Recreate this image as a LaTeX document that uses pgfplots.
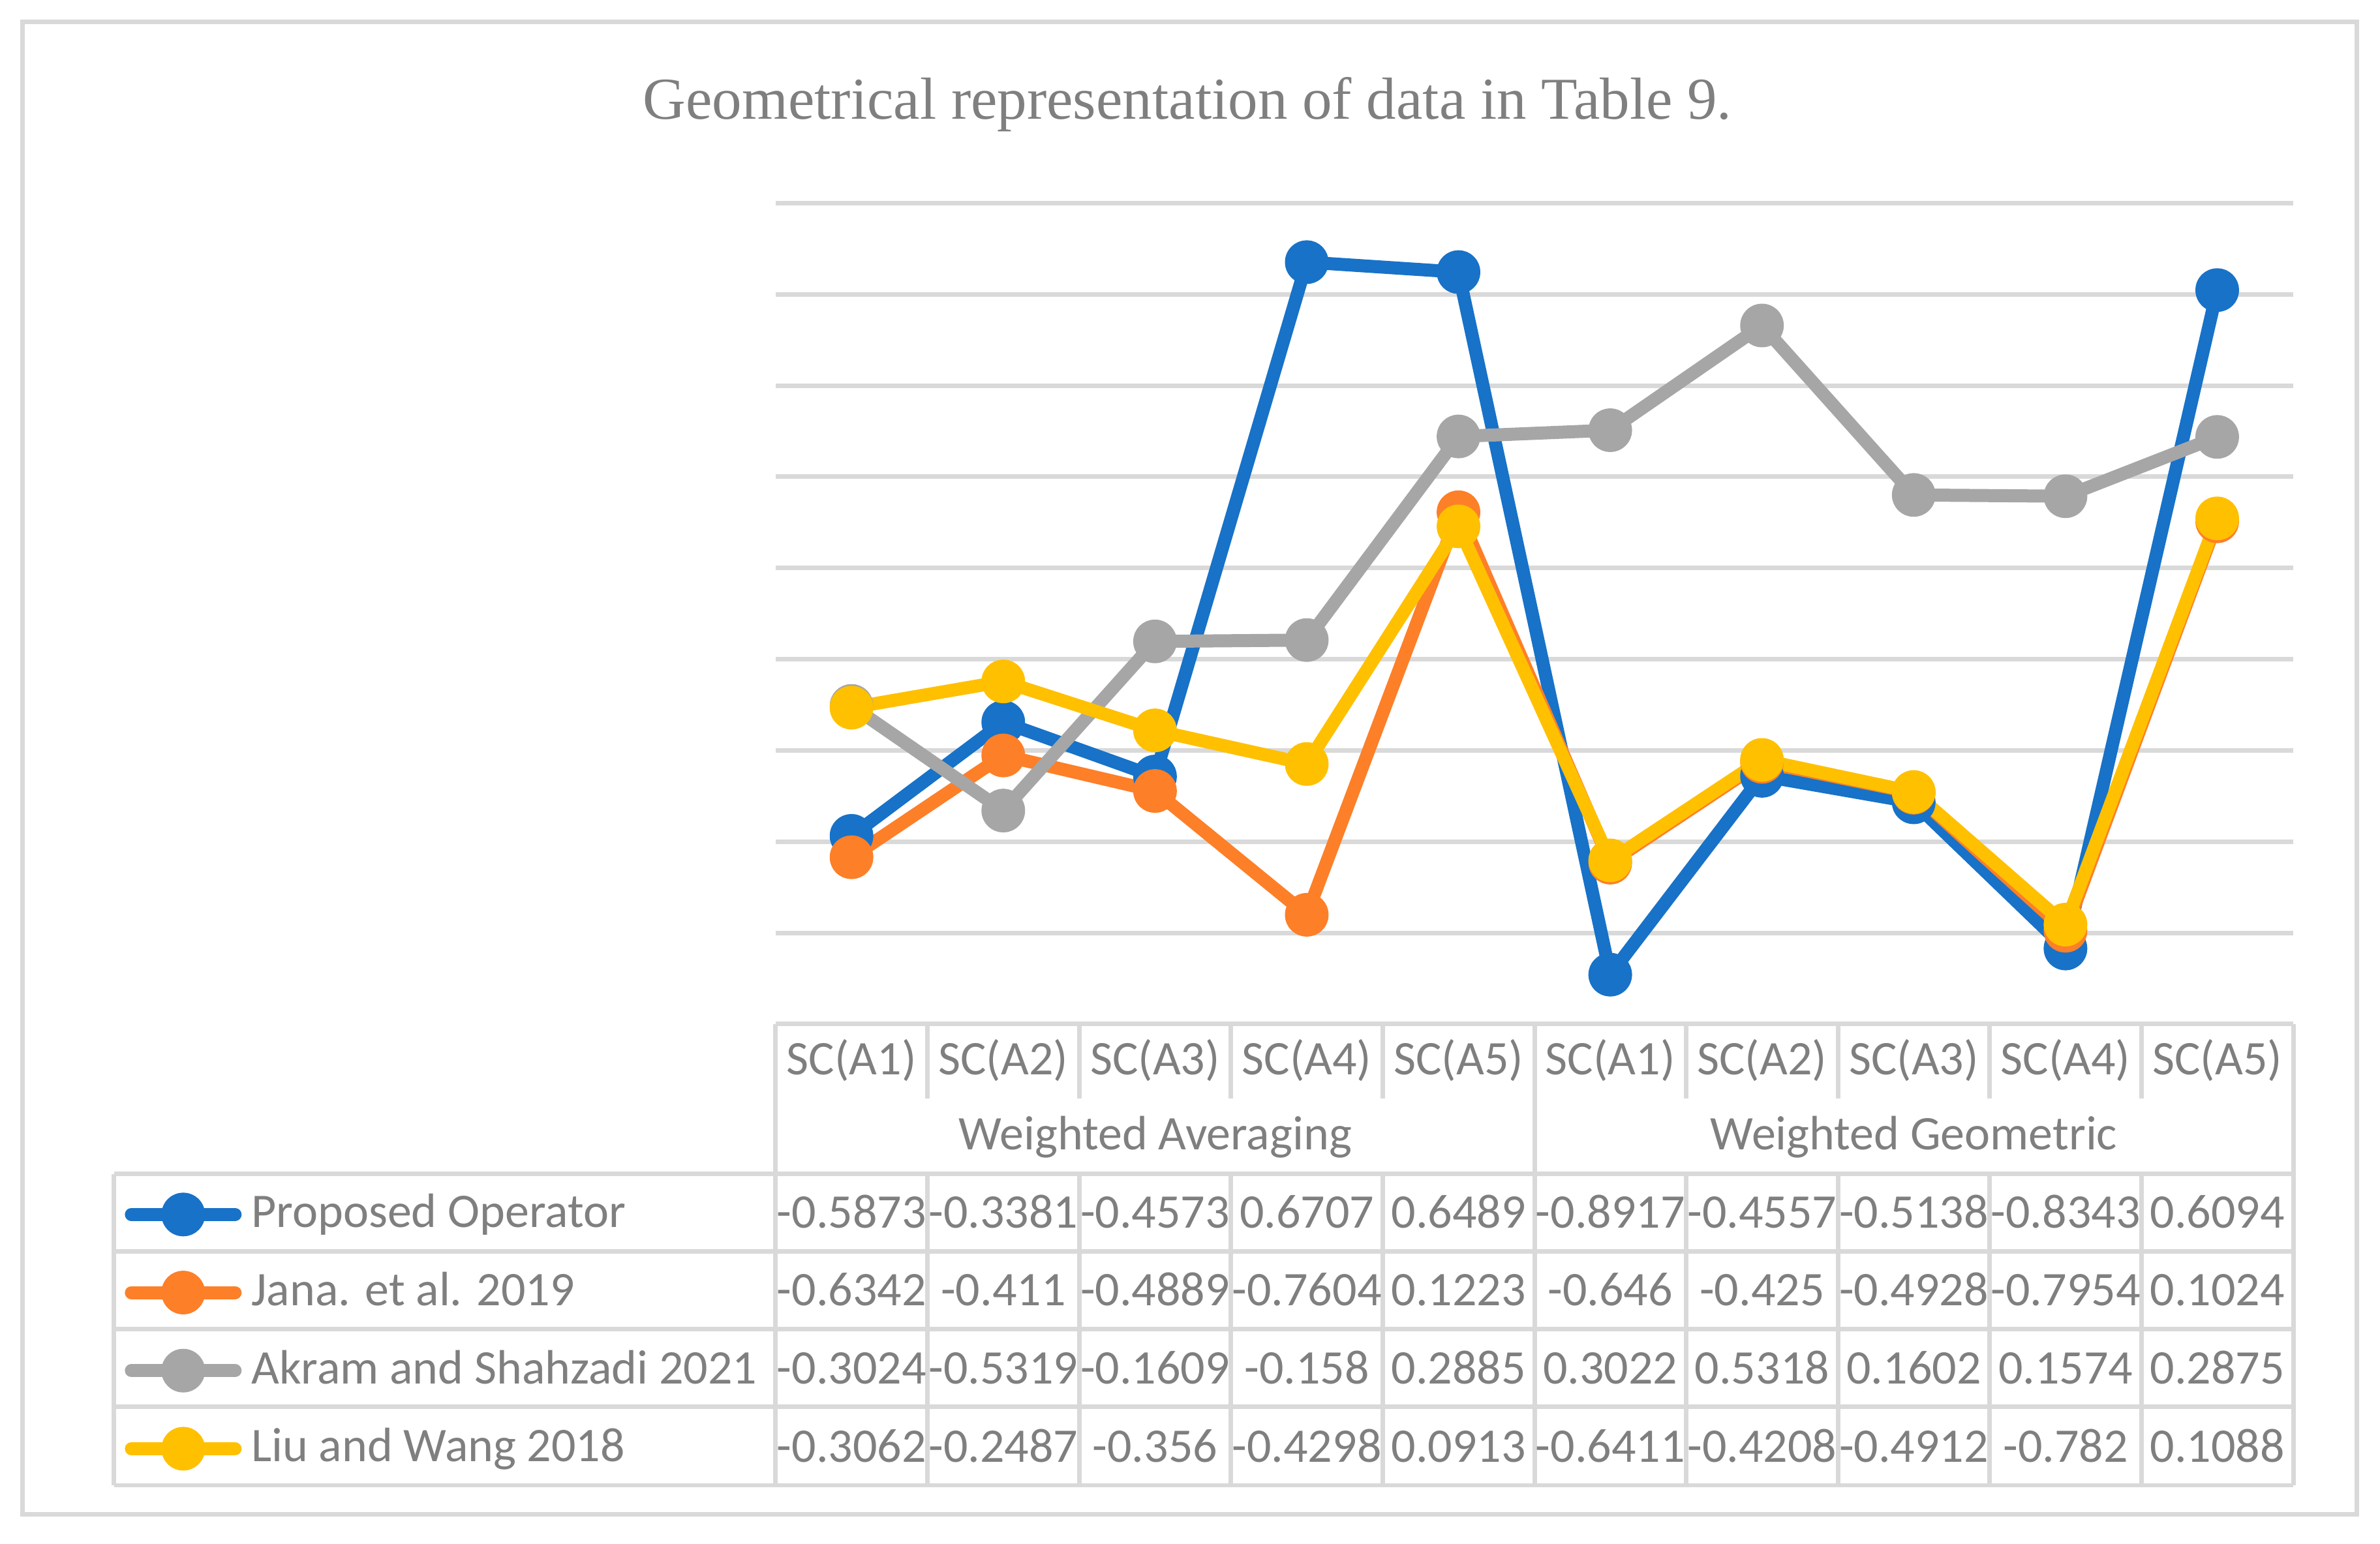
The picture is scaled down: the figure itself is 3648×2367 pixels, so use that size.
\documentclass[border=0pt]{standalone}
\usepackage{fontspec}
\setmainfont{Carlito}
\newfontfamily\titlefont{Liberation Serif}
\usepackage{pgfplots}
\pgfplotsset{compat=1.18}
\definecolor{cblue}{HTML}{1772C8}
\definecolor{corange}{HTML}{FD7F28}
\definecolor{cgray}{HTML}{A6A6A6}
\definecolor{cyellow}{HTML}{FFC000}
\definecolor{tgray}{HTML}{7F7F7F}
\definecolor{lgray}{HTML}{D9D9D9}
\begin{document}
\begin{tikzpicture}
\begin{axis}[
  at={(0,0)}, anchor=south west,
  scale only axis, width=232.6pt, height=125.85pt,
  xmin=0, xmax=10, ymin=-1, ymax=0.8,
  axis line style={draw=none},
  xtick=\empty,
  ytick={-0.8,-0.6,-0.4,-0.2,0,0.2,0.4,0.6,0.8},
  yticklabels={},
  major tick length=0pt,
  ymajorgrids, grid style={color=lgray, line width=0.7pt},
  clip=false,
  legend cell align=left,
  legend style={at={(-0.4289,-0.2002)}, anchor=north west, draw=none, fill=none,
    inner sep=0pt, outer sep=0pt, row sep=3.97pt,
    font=\fontsize{7.4}{8}\selectfont, text=tgray,
    nodes={inner sep=0pt, text height=6pt, text depth=2pt},
    /tikz/every odd column/.append style={column sep=1.5pt}},
  legend image code/.code={\draw[mark repeat=2, mark phase=2, line cap=round, #1] plot coordinates {(0pt,0pt) (7.95pt,0pt) (15.9pt,0pt)};},
  every axis plot/.append style={line width=2pt, line join=round, mark=*, mark size=2.35pt},
]
\addplot[cblue, mark options={draw=none, fill=cblue}] coordinates {
(0.5,-0.5873) (1.5,-0.3381) (2.5,-0.4573) (3.5,0.6707) (4.5,0.6489)
(5.5,-0.8917) (6.5,-0.4557) (7.5,-0.5138) (8.5,-0.8343) (9.5,0.6094)};
\addlegendentry{Proposed Operator}
\addplot[corange, mark options={draw=none, fill=corange}] coordinates {
(0.5,-0.6342) (1.5,-0.411) (2.5,-0.4889) (3.5,-0.7604) (4.5,0.1223)
(5.5,-0.646) (6.5,-0.425) (7.5,-0.4928) (8.5,-0.7954) (9.5,0.1024)};
\addlegendentry{Jana. et al. 2019}
\addplot[cgray, mark options={draw=none, fill=cgray}] coordinates {
(0.5,-0.3024) (1.5,-0.5319) (2.5,-0.1609) (3.5,-0.158) (4.5,0.2885)
(5.5,0.3022) (6.5,0.5318) (7.5,0.1602) (8.5,0.1574) (9.5,0.2875)};
\addlegendentry{Akram and Shahzadi 2021}
\addplot[cyellow, mark options={draw=none, fill=cyellow}] coordinates {
(0.5,-0.3062) (1.5,-0.2487) (2.5,-0.356) (3.5,-0.4298) (4.5,0.0913)
(5.5,-0.6411) (6.5,-0.4208) (7.5,-0.4912) (8.5,-0.782) (9.5,0.1088)};
\addlegendentry{Liu and Wang 2018}
\end{axis}
\begin{scope}[shift={(-118.9pt,157pt)}, x=0.1pt, y=-0.1pt]
  \tikzset{tline/.style={draw=lgray, line width=0.7pt}}
  % outer border
  \draw[tline] (35,34) rectangle (3612,2321);
  % title
  \node[font=\titlefont\fontsize{9.1}{11}\selectfont, text=tgray, anchor=base, inner sep=0pt] at (1820,183) {Geometrical representation of data in Table 9.};
  % table horizontal lines
  \draw[tline] (1189,1570) -- (3515,1570);
  \foreach \yy in {1800,1919,2038,2157,2277} {\draw[tline] (175,\yy) -- (3515,\yy);}
  % vertical lines
  \draw[tline] (175,1800) -- (175,2277);
  \foreach \k in {0,5,10} {\draw[tline] ({1189+\k*232.6},1570) -- ({1189+\k*232.6},2277);}
  \foreach \k in {1,2,3,4,6,7,8,9} {
    \draw[tline] ({1189+\k*232.6},1570) -- ({1189+\k*232.6},1684);
    \draw[tline] ({1189+\k*232.6},1800) -- ({1189+\k*232.6},2277);}
  % header labels
  \foreach \k in {0,...,9} {
    \pgfmathtruncatemacro{\n}{mod(\k,5)+1}
    \node[font=\fontsize{7.4}{8}\selectfont, text=tgray, anchor=base, inner sep=0pt] at ({1189+(\k+0.5)*232.6},1648) {SC(A\n)};}
  \node[font=\fontsize{7.4}{8}\selectfont, text=tgray, anchor=base, inner sep=0pt] at ({1189+2.5*232.6},1763) {Weighted Averaging};
  \node[font=\fontsize{7.4}{8}\selectfont, text=tgray, anchor=base, inner sep=0pt] at ({1189+7.5*232.6},1763) {Weighted Geometric};
  % values
  \def\rowA{{"-0.5873","-0.3381","-0.4573","0.6707","0.6489","-0.8917","-0.4557","-0.5138","-0.8343","0.6094"}}
  \def\rowB{{"-0.6342","-0.411","-0.4889","-0.7604","0.1223","-0.646","-0.425","-0.4928","-0.7954","0.1024"}}
  \def\rowC{{"-0.3024","-0.5319","-0.1609","-0.158","0.2885","0.3022","0.5318","0.1602","0.1574","0.2875"}}
  \def\rowD{{"-0.3062","-0.2487","-0.356","-0.4298","0.0913","-0.6411","-0.4208","-0.4912","-0.782","0.1088"}}
  \foreach \k in {0,...,9} {
    \pgfmathsetmacro{\va}{\rowA[\k]}
    \pgfmathsetmacro{\vb}{\rowB[\k]}
    \pgfmathsetmacro{\vc}{\rowC[\k]}
    \pgfmathsetmacro{\vd}{\rowD[\k]}
    \node[font=\fontsize{7.4}{8}\selectfont, text=tgray, anchor=base, inner sep=0pt] at ({1189+(\k+0.5)*232.6},1883) {\va};
    \node[font=\fontsize{7.4}{8}\selectfont, text=tgray, anchor=base, inner sep=0pt] at ({1189+(\k+0.5)*232.6},2002) {\vb};
    \node[font=\fontsize{7.4}{8}\selectfont, text=tgray, anchor=base, inner sep=0pt] at ({1189+(\k+0.5)*232.6},2121) {\vc};
    \node[font=\fontsize{7.4}{8}\selectfont, text=tgray, anchor=base, inner sep=0pt] at ({1189+(\k+0.5)*232.6},2241) {\vd};
  }
  \pgfresetboundingbox
  \path[use as bounding box] (0,0) rectangle (3648,2367);
\end{scope}
\end{tikzpicture}
\end{document}
